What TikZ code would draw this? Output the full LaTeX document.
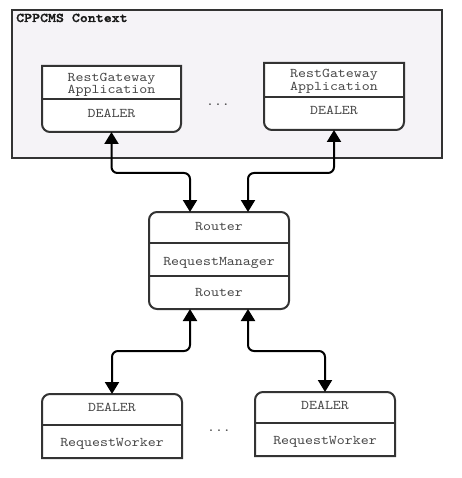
\documentclass[tikz,border=0pt]{standalone}
\usepackage{fontspec}
\newfontfamily\cour{lmmono10-regular}[Extension=.otf, FakeStretch=1.14, BoldFont=lmmonolt10-bold, BoldFeatures={FakeBold=1.6}]
\usetikzlibrary{arrows.meta,calc}
\definecolor{ctxfill}{RGB}{245,243,247}
\definecolor{bord}{RGB}{51,51,51}
\definecolor{txt}{RGB}{70,70,70}
\newcommand\roundbottom[1]{%
  \draw[outline] (#1.north west) -- ([yshift=8pt]#1.south west)
    .. controls ([yshift=3.6pt]#1.south west) and ([xshift=3.6pt]#1.south west) .. ([xshift=8pt]#1.south west)
    -- ([xshift=-8pt]#1.south east)
    .. controls ([xshift=-3.6pt]#1.south east) and ([yshift=3.6pt]#1.south east) .. ([yshift=8pt]#1.south east)
    -- (#1.north east) -- cycle;}
\newcommand\roundtop[1]{%
  \draw[outline] (#1.south west) -- ([yshift=-8pt]#1.north west)
    .. controls ([yshift=-3.6pt]#1.north west) and ([xshift=3.6pt]#1.north west) .. ([xshift=8pt]#1.north west)
    -- ([xshift=-8pt]#1.north east)
    .. controls ([xshift=-3.6pt]#1.north east) and ([yshift=-3.6pt]#1.north east) .. ([yshift=-8pt]#1.north east)
    -- (#1.south east) -- cycle;}
\begin{document}
\begin{tikzpicture}[x=1pt,y=-1pt,
  box/.style={minimum width=140pt,inner sep=0pt,outer sep=0pt,anchor=north west},
  outline/.style={draw=bord,line width=2pt,fill=white},
  divider/.style={draw=bord,line width=2pt},
  lbl/.style={font=\cour\fontsize{13.3}{12.7}\selectfont,text=txt,inner sep=0pt,anchor=base},
  tipb/.tip={Triangle[width=14pt,length=12pt]},
  conn/.style={draw=black,line width=2pt,rounded corners=6pt,tipb-tipb}]
\useasboundingbox (0,0) rectangle (461,478);
% context
\node[draw=bord,line width=2pt,fill=ctxfill,minimum width=430pt,minimum height=148pt,inner sep=0pt,anchor=north west] (ctx) at (11,9) {};
\node[font=\cour\bfseries\fontsize{13.3}{12.7}\selectfont,text=black!90,inner sep=0pt,anchor=base west] (ctxlbl) at (16,22) {CPPCMS Context};
% app 1
\node[box,minimum width=139pt,minimum height=66pt] (app1) at (42,66) {};
\roundbottom{app1}
\draw[divider] ($(app1.north west)+(0,33)$) -- ($(app1.north east)+(0,33)$);
\node[lbl] (app1a) at ($(app1.north)+(0,15.3)$) {RestGateway};
\node[lbl] (app1b) at ($(app1.north)+(0,28)$) {Application};
\node[lbl] (app1c) at ($(app1.north)+(0,51.7)$) {DEALER};
% app 2
\node[box,minimum height=67pt] (app2) at (264,63) {};
\roundbottom{app2}
\draw[divider] ($(app2.north west)+(0,34)$) -- ($(app2.north east)+(0,34)$);
\node[lbl] (app2a) at ($(app2.north)+(0,15)$) {RestGateway};
\node[lbl] (app2b) at ($(app2.north)+(0,27.7)$) {Application};
\node[lbl] (app2c) at ($(app2.north)+(0,51.7)$) {DEALER};
\node[lbl] (dots1) at (218,105.5) {...};
% router
\node[box,minimum height=97pt,draw=bord,line width=2pt,fill=white,rounded corners=8pt] (router) at (149,212) {};
\draw[divider] ($(router.north west)+(0,31)$) -- ($(router.north east)+(0,31)$);
\draw[divider] ($(router.north west)+(0,64)$) -- ($(router.north east)+(0,64)$);
\node[lbl] (r1) at ($(router.north)+(0,18)$) {Router};
\node[lbl] (r2) at ($(router.north)+(0,53)$) {RequestManager};
\node[lbl] (r3) at ($(router.north)+(0,84)$) {Router};
% workers
\node[box,minimum height=64pt] (w1) at (42,394) {};
\roundtop{w1}
\draw[divider] ($(w1.north west)+(0,31)$) -- ($(w1.north east)+(0,31)$);
\node[lbl] (w1a) at ($(w1.north)+(0,17)$) {DEALER};
\node[lbl] (w1b) at ($(w1.north)+(0,52.5)$) {RequestWorker};
\node[box,minimum height=64pt] (w2) at (255,392) {};
\roundtop{w2}
\draw[divider] ($(w2.north west)+(0,31)$) -- ($(w2.north east)+(0,31)$);
\node[lbl] (w2a) at ($(w2.north)+(0,17)$) {DEALER};
\node[lbl] (w2b) at ($(w2.north)+(0,52)$) {RequestWorker};
\node[lbl] (dots2) at (219,431.5) {...};
% connectors
\coordinate (h1) at (0,173);
\coordinate (h2) at (0,351);
\coordinate (rn1) at ([xshift=-29pt]router.north);
\coordinate (rn2) at ([xshift=29pt]router.north);
\coordinate (rs1) at ([xshift=-29pt]router.south);
\coordinate (rs2) at ([xshift=29pt]router.south);
\draw[conn] (app1.south) -- (app1.south |- h1) -- (rn1 |- h1) -- (rn1);
\draw[conn] (app2.south) -- (app2.south |- h1) -- (rn2 |- h1) -- (rn2);
\draw[conn] (rs1) -- (rs1 |- h2) -- (w1.north |- h2) -- (w1.north);
\draw[conn] (rs2) -- (rs2 |- h2) -- (w2.north |- h2) -- (w2.north);
\end{tikzpicture}
\end{document}
